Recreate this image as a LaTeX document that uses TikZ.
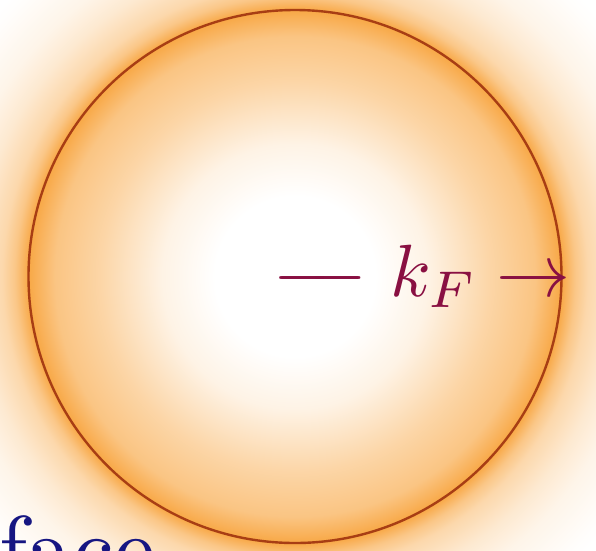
\documentclass[tikz,border=0pt]{standalone}
\usepackage{amsmath}
\usepackage{graphicx}
\definecolor{orpeak}{RGB}{248,168,70}
\definecolor{ringcol}{RGB}{168,62,20}
\definecolor{kcol}{RGB}{137,16,66}
\definecolor{facecol}{RGB}{22,22,130}
\pgfdeclareradialshading{fermiglow}{\pgfpoint{0bp}{0bp}}{%
  color(0bp)=(white);
  color(5bp)=(white);
  color(8.3bp)=(white!86!orpeak);
  color(12.2bp)=(white!52!orpeak);
  color(15bp)=(white!33!orpeak);
  color(16.66bp)=(orpeak);
  color(17.5bp)=(white!35!orpeak);
  color(18.3bp)=(white!55!orpeak);
  color(20bp)=(white!75!orpeak);
  color(21.66bp)=(white!88!orpeak);
  color(24.2bp)=(white!98!orpeak);
  color(25bp)=(white);
  color(50bp)=(white)}
\tikzset{
  ring/.style={draw=ringcol, line width=2.4pt},
  kfont/.style={text=kcol, inner sep=0pt, anchor=base west, font=\fontsize{10}{12}\selectfont},
  facefont/.style={text=facecol, inner sep=0pt, anchor=base west, font=\fontsize{10}{12}\selectfont}
}
\begin{document}
\begin{tikzpicture}[x=1pt,y=-1pt]
\useasboundingbox (0,0) rectangle (596,550);
\begin{scope}
\clip (0,0) rectangle (596,550);
\shade[shading=fermiglow] (295,276.5) circle (400);
\end{scope}
\node[ring, circle, minimum size=533pt, inner sep=0pt] (sphere) at (295,276.5) {};
\node[kfont] (dash) at (273,296) {\scalebox{7.4}{$\mathord{-}\mkern-5.2mu\mathord{-}$}};
\node[kfont] (kf) at (390,296) {\scalebox{7.4}{$k_F$}};
\node[kfont] (arr) at (496,296) {\scalebox{7.4}{$\rightarrow$}};
\node[facefont] (face) at (-1,580) {\scalebox{9.2}{face}};
\end{tikzpicture}
\end{document}
